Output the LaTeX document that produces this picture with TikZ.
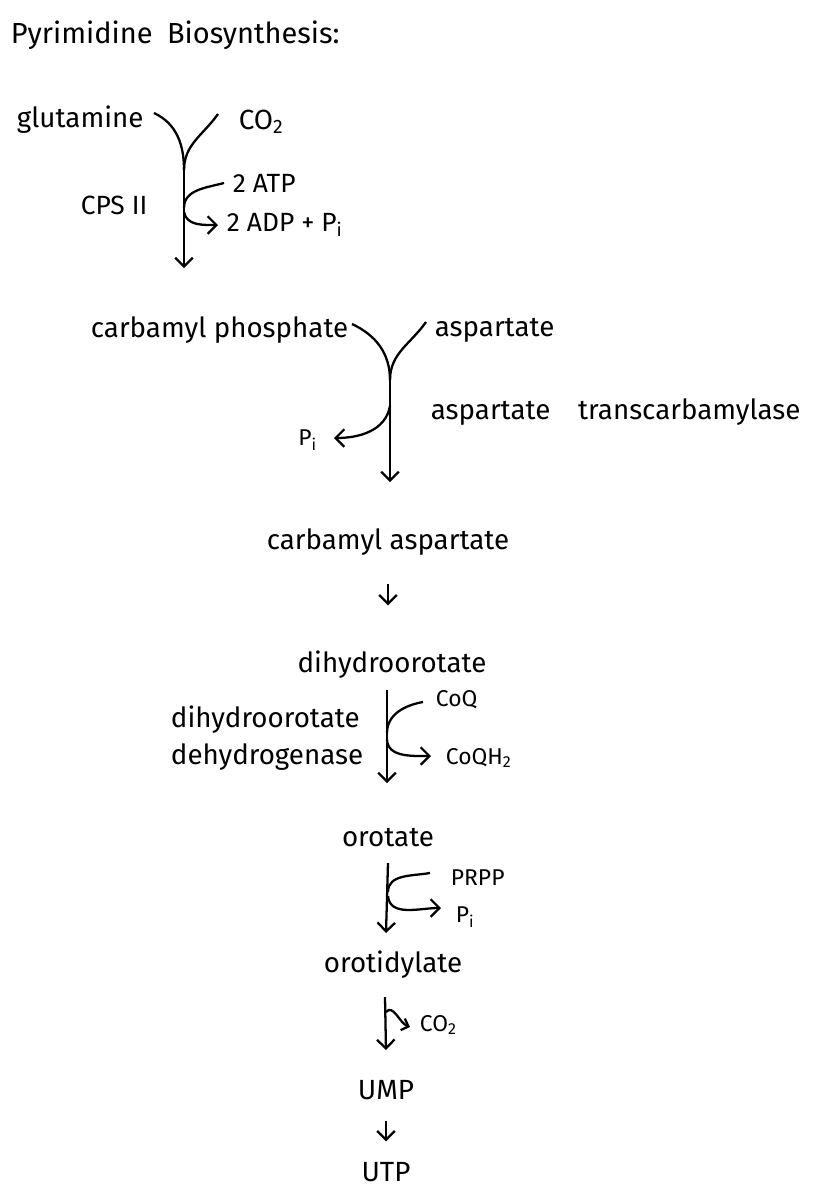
\documentclass[tikz,border=0pt]{standalone}
\usepackage{fontspec}
\setmainfont{Fira Sans}
\usetikzlibrary{arrows.meta, calc}
\tikzset{
    mol/.style = {inner sep=1pt, font=\fontsize{15.8}{21}\selectfont},
    note/.style = {inner sep=1pt, font=\fontsize{15}{18}\selectfont},
    tiny/.style = {inner sep=1pt, font=\fontsize{13}{15}\selectfont},
}

\begin{document}
\begin{tikzpicture}[x=0.02cm, y=0.02cm, line width=1.3pt, >={Straight Barb[length=5pt,width=10pt]}]
\useasboundingbox (0,0) rectangle (834,-1204);

\node[mol, anchor=west, font=\fontsize{16.5}{20}\selectfont] (title) at (8,-35) {Pyrimidine\enspace Biosynthesis:};

\node[mol, anchor=west] (glu) at (14,-120) {glutamine};
\node[mol, anchor=west] (co2a) at (236,-122) {CO\textsubscript{2}};
\node[note, anchor=west] (cps) at (78,-205) {CPS II};
\coordinate (l1) at (154,-113);
\coordinate (r1) at (218,-114);
\coordinate (j1) at (184,-170);
\coordinate (e1) at (184,-268);
\draw (l1) to[out=-25,in=90] (j1);
\draw (r1) to[out=235,in=90] (j1);
\draw[->] (j1) -- (e1);
\node[note, anchor=west] (atp) at (230,-183) {2 ATP};
\node[note, anchor=west] (adp) at (224,-225) {2 ADP + P\textsubscript{i}};
\draw ($(atp.west)+(-6,0)$) to[out=195,in=90] ($(j1)+(0,-38)$);
\draw[->] ($(j1)+(0,-42)$) to[out=-80,in=180] ($(adp.west)+(-6,0)$);

\node[mol, anchor=west] (cp) at (88,-330) {carbamyl phosphate};
\node[mol, anchor=west] (asp) at (432,-330) {aspartate};
\coordinate (l2) at (352,-324);
\coordinate (r2) at (426,-322);
\coordinate (j2) at (390,-380);
\coordinate (e2) at (390,-482);
\draw (l2) to[out=-25,in=90] (j2);
\draw (r2) to[out=235,in=90] (j2);
\draw[->] (j2) -- (e2);
\node[mol, anchor=west] (atc) at (428,-412) {aspartate\quad transcarbamylase};
\node[tiny, anchor=east] (pi1) at (320,-440) {P\textsubscript{i}};
\draw[->] ($(j2)+(0,-26)$) to[out=-100,in=0] ($(pi1.east)+(14,2)$);

\node[mol] (ca) at (388,-542) {carbamyl aspartate};
\node[mol] (dho) at (392,-665) {dihydroorotate};
\draw[->] ($(ca.south)+(0,-26)$) -- ($(dho.north)+(-4,43)$);
\node[mol, anchor=west, align=left] (dhd) at (168,-738) {dihydroorotate\\dehydrogenase};
\coordinate (j3) at (387,-733);
\draw[->] (387,-690) -- (387,-783);
\node[tiny, anchor=west] (coq) at (433,-700) {CoQ};
\node[tiny, anchor=west] (coqh) at (443,-758) {CoQH\textsubscript{2}};
\draw ($(coq.west)+(-10,-2)$) to[out=190,in=90] (j3);
\draw[->] ($(j3)+(0,-6)$) to[out=-90,in=180] ($(coqh.west)+(-12,2)$);

\node[mol] (oro) at (388,-838) {orotate};
\coordinate (j4) at (388,-892);
\draw[->] (388,-863) -- (386,-933);
\node[tiny, anchor=west] (prpp) at (448,-878) {PRPP};
\node[tiny, anchor=west] (pi2) at (453,-917) {P\textsubscript{i}};
\draw ($(prpp.west)+(-18,5)$) to[out=190,in=90] (j4);
\draw[->] ($(j4)+(0,-4)$) to[out=-85,in=180] ($(pi2.west)+(-12,9)$);

\node[mol] (odl) at (393,-965) {orotidylate};
\draw[->] (385,-997) -- (386,-1050);
\node[tiny, anchor=west] (co2b) at (417,-1025) {CO\textsubscript{2}};
\draw[-{Straight Barb[length=3.5pt,width=7pt]}] (386,-1012) to[out=50,in=160] ($(co2b.west)+(-7,-2)$);

\node[mol] (ump) at (386,-1090) {UMP};
\node[mol] (utp) at (386,-1172) {UTP};
\draw[->] ($(ump.south)+(0,-18)$) -- ($(utp.north)+(0,18)$);
\end{tikzpicture}
\end{document}
